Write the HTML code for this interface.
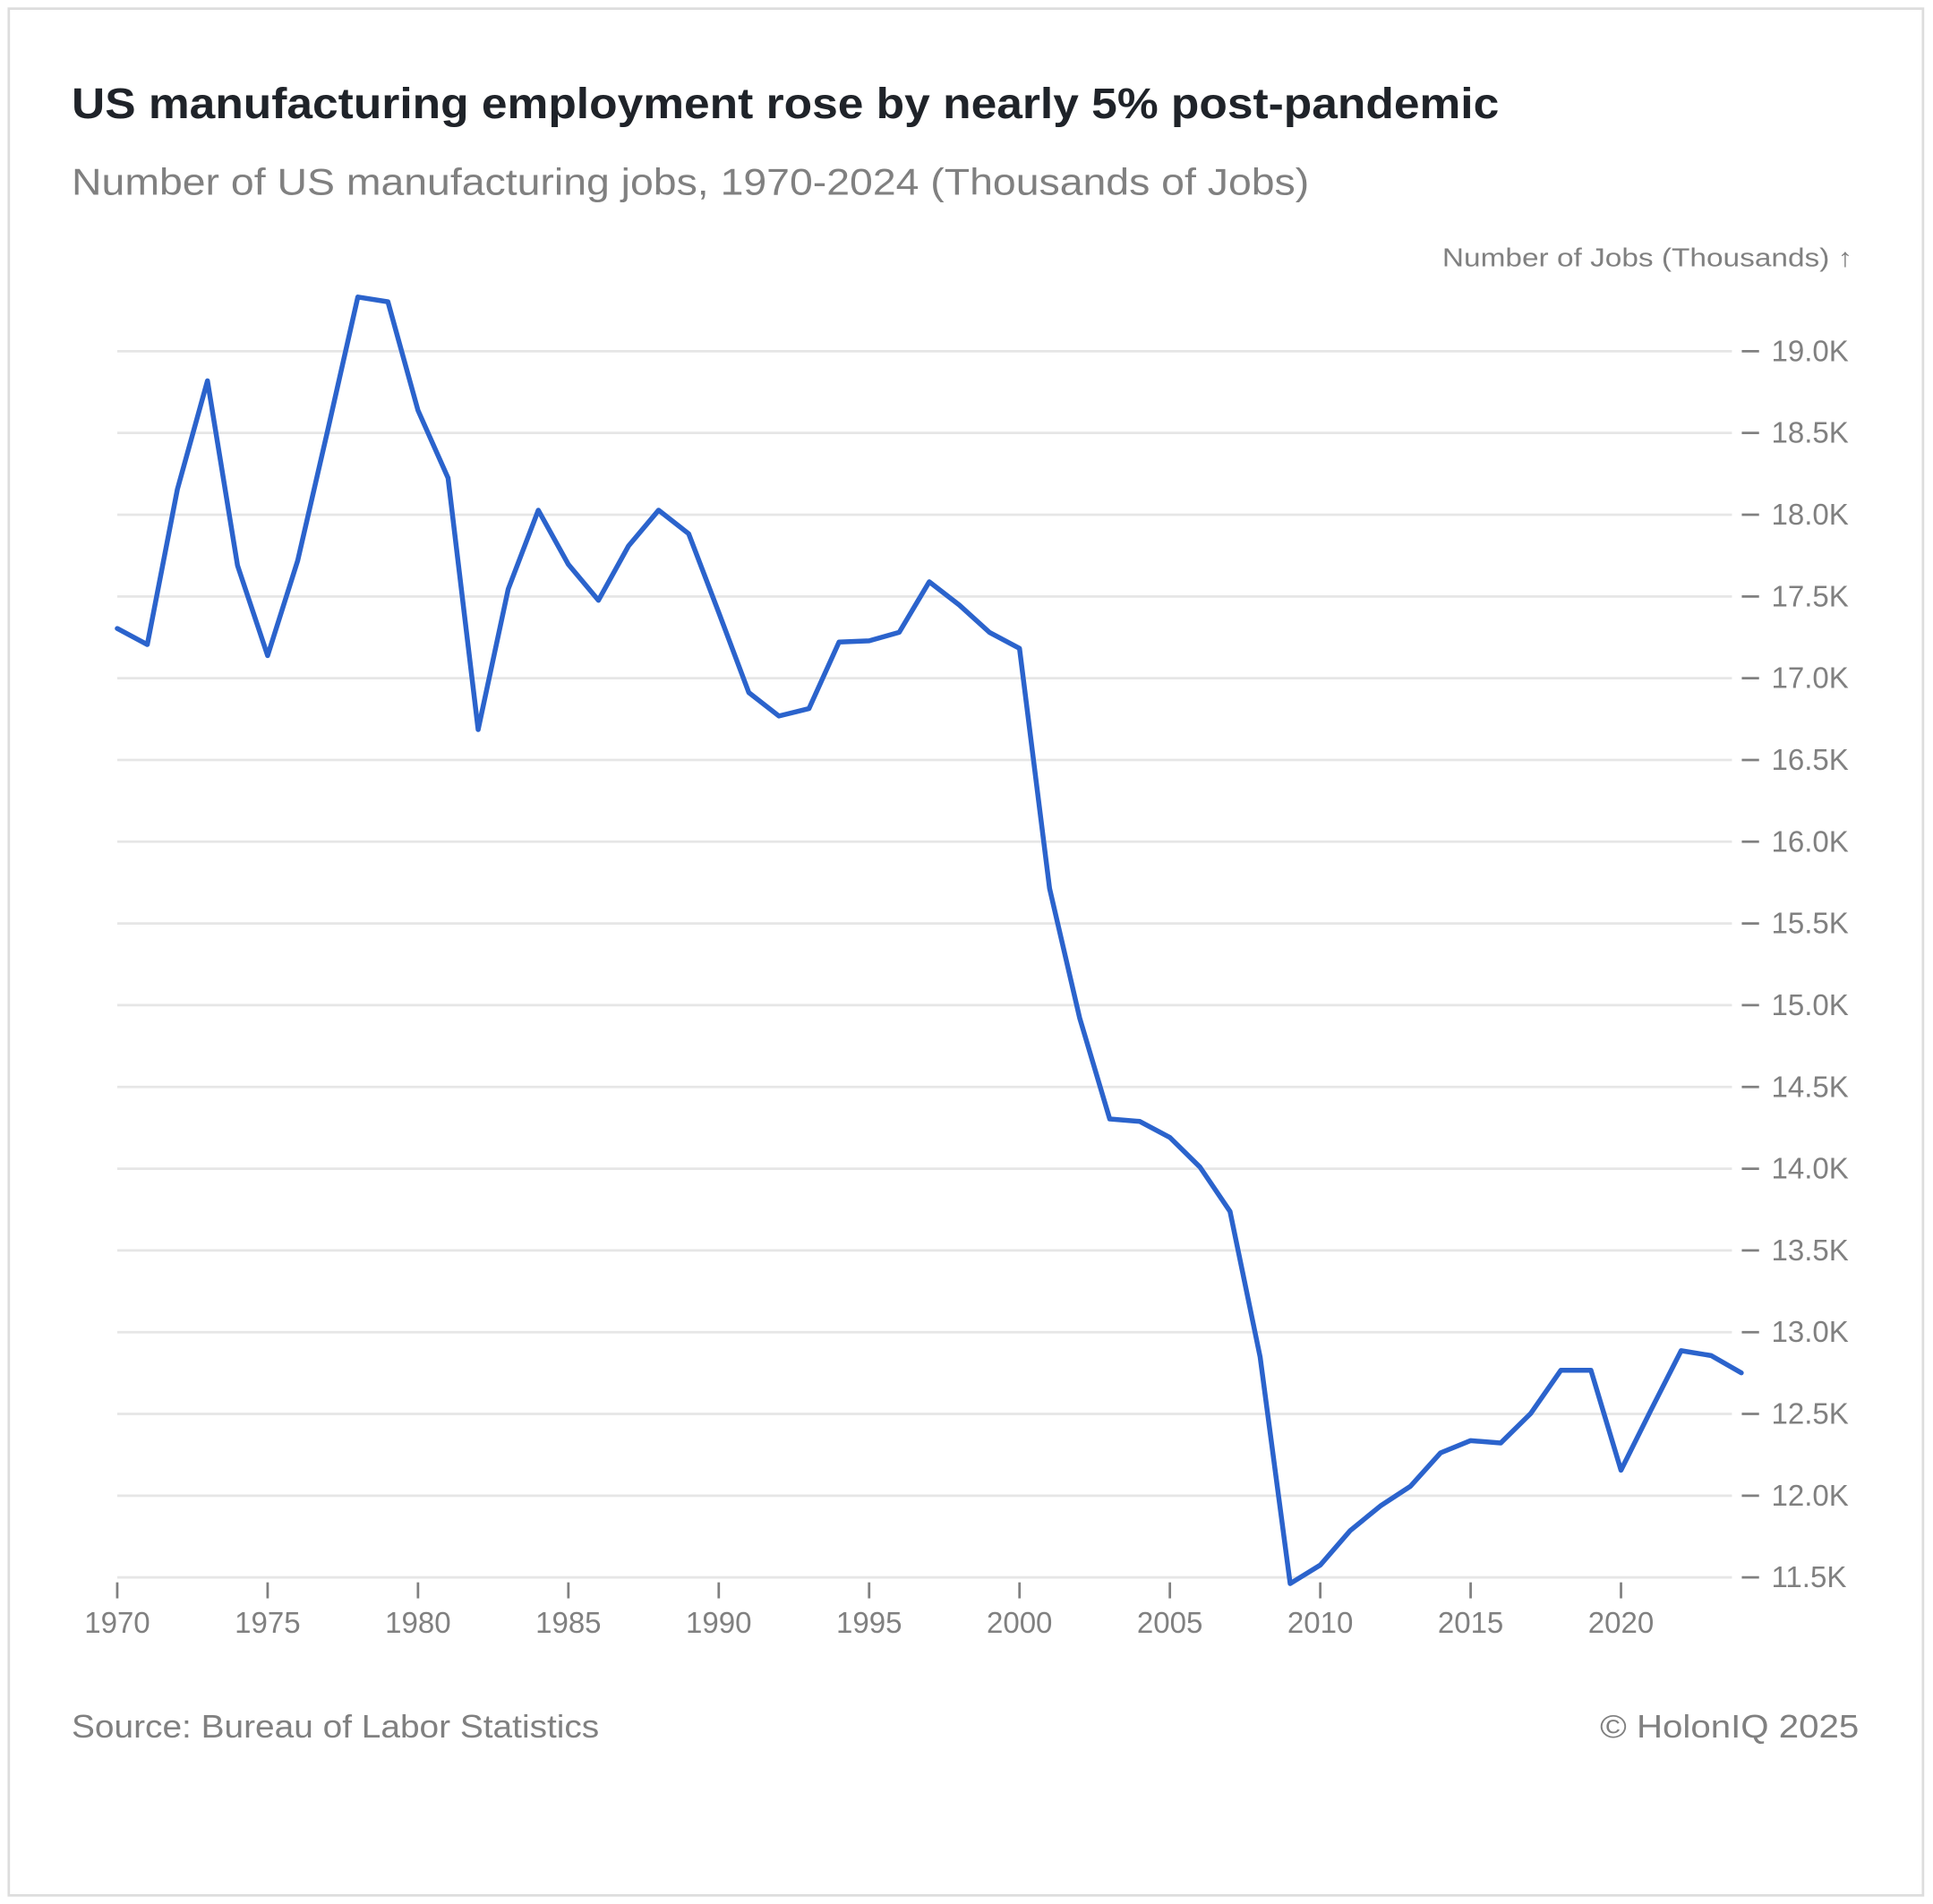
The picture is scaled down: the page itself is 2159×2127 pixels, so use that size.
<!DOCTYPE html>
<html><head><meta charset="utf-8"><style>
html,body{margin:0;padding:0;background:#fff;}
svg{display:block;}
text{font-family:"Liberation Sans",sans-serif;}
</style></head><body>
<svg id="chart" width="2159" height="2127" viewBox="0 0 1568 1545" xmlns="http://www.w3.org/2000/svg">
<rect x="7" y="7" width="1553" height="1531" fill="#fff" stroke="#ddd" stroke-width="2"/>
<text x="58" y="96" font-size="35" font-weight="bold" fill="#1f2329" textLength="1158" lengthAdjust="spacingAndGlyphs">US manufacturing employment rose by nearly 5% post-pandemic</text>
<text x="58" y="158" font-size="30" fill="#808080" textLength="1004" lengthAdjust="spacingAndGlyphs">Number of US manufacturing jobs, 1970-2024 (Thousands of Jobs)</text>
<text x="1503" y="216" font-size="21" fill="#808080" text-anchor="end" textLength="333" lengthAdjust="spacingAndGlyphs">Number of Jobs (Thousands) ↑</text>
<g id="grid"></g>
<g id="yaxis"></g>
<g id="xaxis"></g>
<path id="line" fill="none" stroke="#2b63cc" stroke-width="4" stroke-linejoin="round" stroke-linecap="round"/>
<text x="58" y="1410" font-size="26" fill="#808080" textLength="428" lengthAdjust="spacingAndGlyphs">Source: Bureau of Labor Statistics</text>
<text x="1508" y="1410" font-size="26" fill="#808080" text-anchor="end" textLength="210" lengthAdjust="spacingAndGlyphs">© HolonIQ 2025</text>
</svg>
<script>
const years = [1970,1971,1972,1973,1974,1975,1976,1977,1978,1979,1980,1981,1982,1983,1984,1985,1986,1987,1988,1989,1990,1991,1992,1993,1994,1995,1996,1997,1998,1999,2000,2001,2002,2003,2004,2005,2006,2007,2008,2009,2010,2011,2012,2013,2014,2015,2016,2017,2018,2019,2020,2021,2022,2023,2024];
const jobs = [17304,17206,18156,18819,17689,17138,17719,18518,19332,19302,18638,18224,16686,17545,18028,17696,17477,17809,18028,17884,17402,16912,16769,16814,17221,17229,17281,17590,17447,17281,17183,15714,14922,14304,14289,14191,14010,13739,12849,11462,11575,11787,11937,12058,12262,12337,12322,12503,12767,12767,12156,12525,12887,12857,12751];
const yTicks = [11500,12000,12500,13000,13500,14000,14500,15000,15500,16000,16500,17000,17500,18000,18500,19000];
const yTickLabels = ["11.5K","12.0K","12.5K","13.0K","13.5K","14.0K","14.5K","15.0K","15.5K","16.0K","16.5K","17.0K","17.5K","18.0K","18.5K","19.0K"];
const xTicks = [1970,1975,1980,1985,1990,1995,2000,2005,2010,2015,2020];

const NS = "http://www.w3.org/2000/svg";
const x = v => 95 + (v - 1970) * (1315 - 95) / 50;
const y = v => 1280 - (v - 11500) * (1280 - 285) / 7500;
function mk(tag, attrs, parent){ const e=document.createElementNS(NS,tag); for(const k in attrs) e.setAttribute(k,attrs[k]); parent.appendChild(e); return e; }
const grid=document.getElementById('grid'), ya=document.getElementById('yaxis'), xa=document.getElementById('xaxis');
yTicks.forEach((t,i)=>{
  const g=mk('line',{x1:95,x2:1405,y1:y(t),y2:y(t),stroke:'#e6e6e6','stroke-width':2},grid);
  
  
  const tk=mk('line',{x1:1413,x2:1427,y1:y(t),y2:y(t),stroke:'#808080','stroke-width':2},ya);
  
  
  const lb=mk('text',{x:1437,y:y(t)+8,'font-size':24,fill:'#808080'},ya);
  lb.textContent=yTickLabels[i];
  
  
});
xTicks.forEach(t=>{
  const tk=mk('line',{x1:x(t),x2:x(t),y1:1284,y2:1297,stroke:'#808080','stroke-width':2},xa);
  
  
  const lb=mk('text',{x:x(t),y:1325,'font-size':24,fill:'#808080','text-anchor':'middle'},xa);
  lb.textContent=t;
  
  
});
document.getElementById('line').setAttribute('d', years.map((yr,i)=>(i?'L':'M')+x(yr).toFixed(1)+','+y(jobs[i]).toFixed(1)).join(''));
</script>
</body></html>
